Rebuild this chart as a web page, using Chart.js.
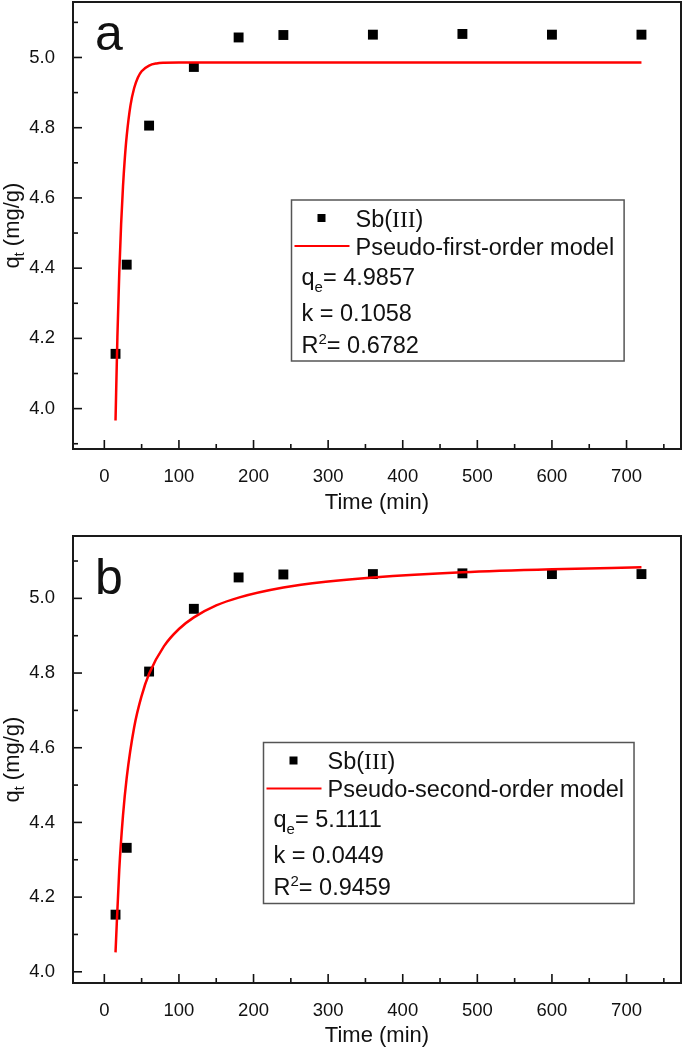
<!DOCTYPE html>
<html>
<head>
<meta charset="utf-8">
<script src="https://cdn.jsdelivr.net/npm/chart.js@4.4.0/dist/chart.umd.min.js"></script>
<style>
  body { margin: 0; background: #fff; }
  .panel { position: absolute; left: 0; }
  #panelA { top: 0; }
  #panelB { top: 520px; }
</style>
</head>
<body>
<div class="panel" id="panelA"><canvas id="chartA" width="685" height="520"></canvas></div>
<div class="panel" id="panelB"><canvas id="chartB" width="685" height="532"></canvas></div>
<script>
// DATA //

const timeMin = [15, 30, 60, 120, 180, 240, 360, 480, 600, 720];
const qtA = [4.156, 4.41, 4.806, 4.973, 5.057, 5.064, 5.065, 5.067, 5.065, 5.065];
const qtB = [4.153, 4.332, 4.804, 4.972, 5.056, 5.064, 5.065, 5.067, 5.065, 5.065];

const firstOrderTime = [15, 17.5, 20, 22.5, 25, 27.5, 30, 35, 40, 45, 50, 60, 70, 80, 100, 720];
const firstOrderQt = [3.966, 4.203, 4.385, 4.525, 4.632, 4.714, 4.777, 4.863, 4.913, 4.943, 4.961, 4.977, 4.983, 4.985, 4.986, 4.986];

const secondOrderTime = [15, 20, 25, 30, 40, 50, 60, 80, 100, 120, 150, 180, 240, 300, 360, 480, 600, 720];
const secondOrderQt = [4.052, 4.273, 4.418, 4.520, 4.655, 4.739, 4.798, 4.872, 4.918, 4.949, 4.981, 5.002, 5.029, 5.045, 5.056, 5.070, 5.078, 5.083];

const xTickValues = [0, 100, 200, 300, 400, 500, 600, 700];
const yTickValues = [4.0, 4.2, 4.4, 4.6, 4.8, 5.0];
const xRange = [-42, 773];
const yRangeA = [3.885, 5.158];
const yRangeB = [3.97, 5.167];

const seriesParts = ['Sb(', 'III', ')'];
const modelNames = ['Pseudo-first-order model', 'Pseudo-second-order model'];
const fitQe = ['4.9857', '5.1111'];
const fitK = ['0.1058', '0.0449'];
const fitR2 = ['0.6782', '0.9459'];
const panelLetters = ['a', 'b'];

// HELPERS //

const SANS = '"Liberation Sans", Arial, sans-serif';
const SERIF = '"Liberation Serif", "Times New Roman", serif';
const INK = '#111';
const RED = '#ff0000';

function toPoints(xs, ys) {
    return xs.map((x, i) => ({ x: x, y: ys[i] }));
}

// draws pieces of text one after the other, each with its own font and baseline shift
function drawRuns(ctx, x, y, runs) {
    let cx = x;
    runs.forEach(r => {
        ctx.font = r.font;
        ctx.fillText(r.text, cx, y + (r.dy || 0));
        cx += ctx.measureText(r.text).width;
    });
    return cx;
}

function runsWidth(ctx, runs) {
    let w = 0;
    runs.forEach(r => { ctx.font = r.font; w += ctx.measureText(r.text).width; });
    return w;
}

// FRAME, TICKS, TITLES, LEGEND //

const decorPlugin = {
    id: 'decor',
    afterDraw(chart, args, opts) {
        const { ctx, chartArea: a, scales: { x, y } } = chart;
        ctx.save();

        // inward major + minor ticks
        ctx.strokeStyle = INK;
        ctx.lineWidth = 1.6;
        const tick = (axis, v, len) => {
            ctx.beginPath();
            if (axis === x) {
                const px = x.getPixelForValue(v);
                ctx.moveTo(px, a.bottom);
                ctx.lineTo(px, a.bottom - len);
            } else {
                const py = y.getPixelForValue(v);
                ctx.moveTo(a.left, py);
                ctx.lineTo(a.left + len, py);
            }
            ctx.stroke();
        };
        [x, y].forEach(axis => {
            const vals = axis.ticks.map(t => t.value);
            const step = vals[1] - vals[0];
            vals.forEach(v => tick(axis, v, 9));
            for (let i = -1; i < vals.length; i++) {
                const m = vals[0] + (i + 0.5) * step;
                if (m > axis.min && m < axis.max) tick(axis, m, 5);
            }
        });

        // frame
        ctx.lineWidth = 2;
        ctx.strokeStyle = '#1a1a1a';
        ctx.strokeRect(a.left, a.top, a.right - a.left, a.bottom - a.top);

        // y title with subscript
        ctx.fillStyle = INK;
        ctx.textBaseline = 'alphabetic';
        ctx.textAlign = 'left';
        const yRuns = [
            { text: 'q', font: '22px ' + SANS },
            { text: 't', font: '14px ' + SANS, dy: 5 },
            { text: ' (mg/g)', font: '22px ' + SANS }
        ];
        ctx.save();
        ctx.translate(19, (a.top + a.bottom) / 2);
        ctx.rotate(-Math.PI / 2);
        drawRuns(ctx, -runsWidth(ctx, yRuns) / 2, 0, yRuns);
        ctx.restore();

        // panel letter
        ctx.font = '50px ' + SANS;
        ctx.fillText(opts.letter, opts.letterX, opts.letterY);

        // legend box
        const L = opts.legendLeft, T = opts.legendTop;
        const fs = '23.5px ' + SANS;
        const small = '15px ' + SANS;
        const rows = [18, 46, 76, 112, 144].map(r => T + r + 8.5);
        ctx.font = fs;
        const boxW = 64 + ctx.measureText(opts.model).width + 10;

        ctx.strokeStyle = '#555';
        ctx.lineWidth = 1.5;
        ctx.strokeRect(L, T, boxW, 161);

        // marker sample
        ctx.fillStyle = '#000';
        ctx.fillRect(L + 26, T + 14, 8, 8);
        // line sample
        ctx.strokeStyle = RED;
        ctx.lineWidth = 2;
        ctx.beginPath();
        ctx.moveTo(L + 3, T + 46);
        ctx.lineTo(L + 58, T + 46);
        ctx.stroke();

        ctx.fillStyle = INK;
        drawRuns(ctx, L + 64, rows[0], [
            { text: seriesParts[0], font: fs },
            { text: seriesParts[1], font: '23.5px ' + SERIF },
            { text: seriesParts[2], font: fs }
        ]);
        drawRuns(ctx, L + 64, rows[1], [{ text: opts.model, font: fs }]);
        drawRuns(ctx, L + 10, rows[2], [
            { text: 'q', font: fs },
            { text: 'e', font: small, dy: 7 },
            { text: '= ' + opts.qe, font: fs }
        ]);
        drawRuns(ctx, L + 10, rows[3], [{ text: 'k = ' + opts.k, font: fs }]);
        drawRuns(ctx, L + 10, rows[4], [
            { text: 'R', font: fs },
            { text: '2', font: small, dy: -9 },
            { text: '= ' + opts.r2, font: fs }
        ]);

        ctx.restore();
    }
};

// CHARTS //

function makeChart(canvasId, qt, fitX, fitY, yRange, cfg) {
    return new Chart(document.getElementById(canvasId), {
        type: 'scatter',
        data: {
            datasets: [{
                data: toPoints(fitX, fitY),
                showLine: true,
                borderColor: RED,
                borderWidth: 2.5,
                pointRadius: 0,
                cubicInterpolationMode: 'monotone'
            }, {
                data: toPoints(timeMin, qt),
                pointStyle: 'rect',
                pointRadius: 7,
                pointBorderWidth: 0,
                backgroundColor: '#000',
                borderColor: '#000'
            }]
        },
        options: {
            responsive: false,
            animation: false,
            layout: {
                autoPadding: false,
                padding: { left: 0, top: cfg.top, right: 4, bottom: 0 }
            },
            scales: {
                x: {
                    type: 'linear',
                    min: xRange[0],
                    max: xRange[1],
                    bounds: 'data',
                    grid: { display: false },
                    border: { display: false },
                    afterBuildTicks: s => { s.ticks = xTickValues.map(v => ({ value: v })); },
                    ticks: {
                        color: INK,
                        padding: 9,
                        maxRotation: 0,
                        font: { family: SANS, size: 18.5 },
                        callback: v => String(v)
                    },
                    title: {
                        display: true,
                        text: 'Time (min)',
                        color: INK,
                        font: { family: SANS, size: 22 },
                        padding: { top: 0, bottom: cfg.titlePad }
                    },
                    afterFit: s => {
                        s.height = cfg.xHeight;
                        s.paddingLeft = 0; s.paddingRight = 0;
                    }
                },
                y: {
                    type: 'linear',
                    min: yRange[0],
                    max: yRange[1],
                    bounds: 'data',
                    grid: { display: false },
                    border: { display: false },
                    afterBuildTicks: s => { s.ticks = yTickValues.map(v => ({ value: v })); },
                    ticks: {
                        color: INK,
                        padding: 10,
                        font: { family: SANS, size: 18.5 },
                        callback: v => v.toFixed(1)
                    },
                    afterFit: s => {
                        s.width = 73;
                        s.paddingTop = 0; s.paddingBottom = 0;
                    }
                }
            },
            plugins: {
                legend: { display: false },
                tooltip: { enabled: false },
                decor: cfg.decor
            }
        },
        plugins: [decorPlugin]
    });
}

const chartA = makeChart('chartA', qtA, firstOrderTime, firstOrderQt, yRangeA, {
    top: 2, xHeight: 71, titlePad: 4,
    decor: {
        letter: panelLetters[0], letterX: 95, letterY: 50,
        legendLeft: 291.5, legendTop: 200,
        model: modelNames[0], qe: fitQe[0], k: fitK[0], r2: fitR2[0]
    }
});

const chartB = makeChart('chartB', qtB, secondOrderTime, secondOrderQt, yRangeB, {
    top: 16, xHeight: 69, titlePad: 3,
    decor: {
        letter: panelLetters[1], letterX: 95, letterY: 74,
        legendLeft: 263.5, legendTop: 222.5,
        model: modelNames[1], qe: fitQe[1], k: fitK[1], r2: fitR2[1]
    }
});
</script>
</body>
</html>
